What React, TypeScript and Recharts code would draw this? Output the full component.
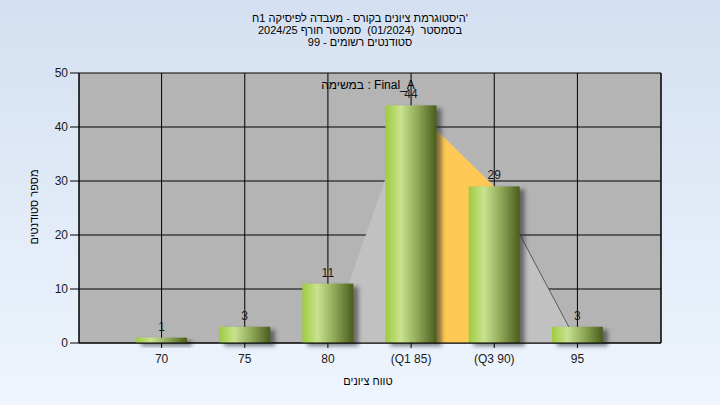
import {
  Area,
  Bar,
  CartesianGrid,
  ComposedChart,
  LabelList,
  XAxis,
  YAxis,
} from "recharts";

const FONT = '"Liberation Sans", Arial, sans-serif';

const titleLines = [
  "היסטוגרמת ציונים בקורס - מעבדה לפיסיקה 1ח'",
  "בסמסטר  (01/2024)  סמסטר חורף 2024/25",
  "סטודנטים רשומים - 99",
];

const categories = ["70", "75", "80", "(Q1 85)", "(Q3 90)", "95"];
const counts = [1, 3, 11, 44, 29, 3];
// shaded outline behind the bars, and the Q1..Q3 band
const spreadArea = [null, null, 0, 44, 29, 0];
const quartileArea = [null, null, null, 44, 29, null];
const tailLine = [null, null, null, null, 29, 0];
const yTicks = [0, 10, 20, 30, 40, 50];

const data = categories.map((label, i) => ({
  label,
  count: counts[i],
  spread: spreadArea[i],
  quartile: quartileArea[i],
  tail: tailLine[i],
}));

interface BarShapeProps {
  x?: number;
  y?: number;
  width?: number;
  height?: number;
}

function ShadedBar({ x = 0, y = 0, width = 0, height = 0 }: BarShapeProps) {
  if (height <= 0) return null;
  return (
    <g>
      <rect
        x={x + 5}
        y={y + 3}
        width={width}
        height={height}
        fill="#2e2e2e"
        opacity={0.6}
        filter="url(#barShadowBlur)"
      />
      <rect x={x} y={y} width={width} height={height} fill="url(#barGradient)" />
    </g>
  );
}

const tickStyle = { fill: "#1a1a1a", fontSize: 12, fontFamily: FONT };

export default function App() {
  return (
    <div
      style={{
        position: "absolute",
        left: 0,
        top: 0,
        width: 720,
        height: 405,
        background: "linear-gradient(to bottom, #d4e0f1 0%, #eef5fd 100%)",
        fontFamily: FONT,
        overflow: "hidden",
      }}
    >
      <div
        style={{
          position: "absolute",
          left: 0,
          top: 12,
          width: 720,
          textAlign: "center",
          fontSize: 11,
          lineHeight: "12px",
          color: "#000",
        }}
      >
        {titleLines.map((line) => (
          <div key={line} style={{ whiteSpace: "pre" }}>
            {line}
          </div>
        ))}
      </div>

      <ComposedChart
        width={720}
        height={405}
        data={data}
        margin={{ top: 73, right: 0, bottom: 0, left: 0 }}
        style={{ position: "absolute", left: 0, top: 0 }}
      >
        <defs>
          <linearGradient id="barGradient" x1="0" y1="0" x2="1" y2="0">
            <stop offset="0%" stopColor="#9dcb3f" />
            <stop offset="30%" stopColor="#c9e28f" />
            <stop offset="62%" stopColor="#91aa5a" />
            <stop offset="100%" stopColor="#4a5d1c" />
          </linearGradient>
          <filter id="barShadowBlur" x="-30%" y="-30%" width="160%" height="160%">
            <feGaussianBlur stdDeviation="2" />
          </filter>
        </defs>

        <CartesianGrid
          yAxisId="left"
          stroke="#000"
          strokeWidth={1}
          fill="#b4b4b4"
          fillOpacity={1}
        />

        <XAxis
          dataKey="label"
          type="category"
          padding={{ left: 41, right: 42 }}
          height={62}
          axisLine={{ stroke: "#000" }}
          tickLine={{ stroke: "#000" }}
          tickSize={5}
          tickMargin={6}
          interval={0}
          tick={tickStyle}
        />
        <YAxis
          yAxisId="left"
          domain={[0, 50]}
          ticks={yTicks}
          width={79}
          axisLine={{ stroke: "#000" }}
          tickLine={{ stroke: "#000" }}
          tickSize={9}
          tickMargin={2}
          tick={tickStyle}
        />
        <YAxis
          yAxisId="right"
          orientation="right"
          domain={[0, 50]}
          ticks={yTicks}
          width={59}
          axisLine={{ stroke: "#000" }}
          tickLine={{ stroke: "#000" }}
          tickSize={9}
          tickMargin={1}
          tick={tickStyle}
        />

        <Area
          yAxisId="left"
          type="linear"
          dataKey="spread"
          fill="#c1c1c1"
          fillOpacity={1}
          stroke="none"
          connectNulls={false}
          isAnimationActive={false}
        />
        <Area
          yAxisId="left"
          type="linear"
          dataKey="quartile"
          fill="#ffc955"
          fillOpacity={1}
          stroke="none"
          connectNulls={false}
          isAnimationActive={false}
        />
        <Area
          yAxisId="left"
          type="linear"
          dataKey="tail"
          fill="none"
          fillOpacity={0}
          stroke="#5a5a5a"
          strokeWidth={1}
          dot={false}
          activeDot={false}
          connectNulls={false}
          isAnimationActive={false}
        />
        <Bar
          yAxisId="left"
          dataKey="count"
          barSize={51}
          shape={<ShadedBar />}
          isAnimationActive={false}
        >
          <LabelList
            dataKey="count"
            position="top"
            offset={7}
            fill="#1a1a1a"
            fontSize={12}
            fontFamily={FONT}
          />
        </Bar>
      </ComposedChart>

      <div
        style={{
          position: "absolute",
          left: 368,
          top: 85,
          transform: "translate(-50%, -50%)",
          fontSize: 12,
          whiteSpace: "nowrap",
          color: "#000",
        }}
      >
        במשימה : Final_A
      </div>

      <div
        style={{
          position: "absolute",
          left: 368,
          top: 381,
          transform: "translate(-50%, -50%)",
          fontSize: 11,
          whiteSpace: "nowrap",
          color: "#000",
        }}
      >
        טווח ציונים
      </div>

      <div
        style={{
          position: "absolute",
          left: 34,
          top: 207,
          transform: "translate(-50%, -50%) rotate(-90deg)",
          fontSize: 11,
          whiteSpace: "nowrap",
          color: "#000",
        }}
      >
        מספר סטודנטים
      </div>
    </div>
  );
}
